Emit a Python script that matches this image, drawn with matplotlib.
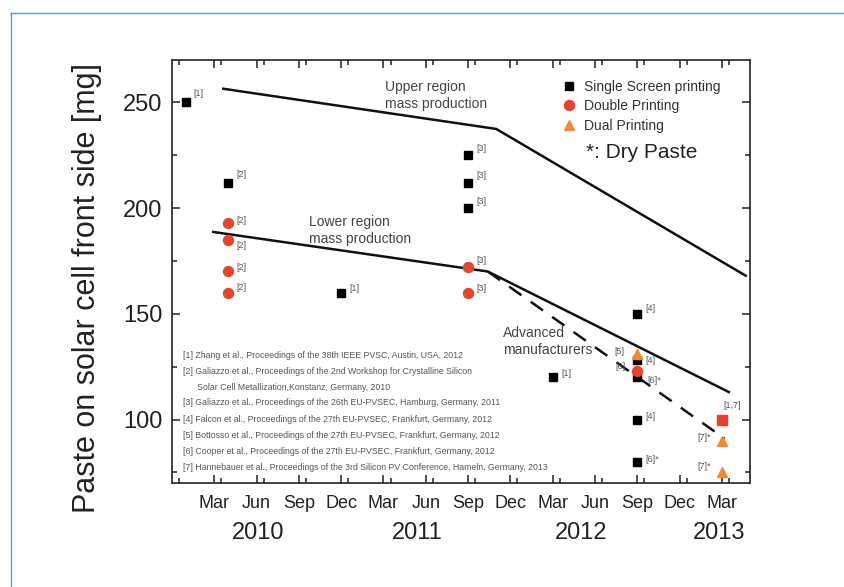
import matplotlib
matplotlib.use("Agg")
import matplotlib.pyplot as plt
import numpy as np
from matplotlib.lines import Line2D

plt.rcParams['font.family'] = ['Liberation Sans', 'DejaVu Sans']

# ---- data (x = months since Jan 2010) ----
single_x = [0, 3, 11, 20, 20, 20, 26, 32, 32, 32, 32, 32]
single_y = [250, 212, 160, 225, 212, 200, 120, 150, 128, 120, 100, 80]
single_lbl = ['[1]', '[2]', '[1]', '[3]', '[3]', '[3]', '[1]', '[4]', '[4]', '[6]*', '[4]', '[6]*']

double_x = [3, 3, 3, 3, 20, 20, 32]
double_y = [193, 185, 170, 160, 172, 160, 123]
double_lbl = ['[2]', '[2]', '[2]', '[2]', '[3]', '[3]', '[6]']

dual_x = [32, 38, 38]
dual_y = [131, 90, 75]
dual_lbl = ['[5]', '[7]*', '[7]*']

red_sq_x = [38]
red_sq_y = [100]
red_sq_lbl = ['[1,7]']

upper_x = [2.64, 22.0, 39.7]
upper_y = [256.4, 237.4, 168.0]
lower_x = [1.93, 21.4, 38.5]
lower_y = [188.7, 170.0, 113.0]
dashed_x = [21.4, 38.2]
dashed_y = [170.0, 91.0]

major_ticks = list(range(2, 39, 3))
month_labels = ['Mar', 'Jun', 'Sep', 'Dec'] * 3 + ['Mar']
year_labels = ['2010', '2011', '2012', '2013']
year_pos = [5.1, 16.4, 28.0, 37.8]

references = [
    "[1] Zhang et al., Proceedings of the 38th IEEE PVSC, Austin, USA, 2012",
    "[2] Galiazzo et al., Proceedings of the 2nd Workshop for Crystalline Silicon",
    "      Solar Cell Metallization,Konstanz, Germany, 2010",
    "[3] Galiazzo et al., Proceedings of the 26th EU-PVSEC, Hamburg, Germany, 2011",
    "[4] Falcon et al., Proceedings of the 27th EU-PVSEC, Frankfurt, Germany, 2012",
    "[5] Bottosso et al., Proceedings of the 27th EU-PVSEC, Frankfurt, Germany, 2012",
    "[6] Cooper et al., Proceedings of the 27th EU-PVSEC, Frankfurt, Germany, 2012",
    "[7] Hannebauer et al., Proceedings of the 3rd Silicon PV Conference, Hameln, Germany, 2013",
]

# label offsets in points (layout only)
single_off = [(5, 6), (6, 6), (6, 3), (6, 5), (6, 5), (6, 5), (6, 3), (6, 4), (6, 0), (7, -2), (6, 2), (6, 2)]
double_off = [(6, 2), (6, -4), (6, 3), (6, 4), (6, 5), (6, 3), (-8, 3)]
dual_off = [(-9, 2), (-8, 2), (-8, 4)]

C_BLACK = '#000000'
C_RED = '#e8432d'
C_ORANGE = '#f28b30'
C_TXT = '#444444'

fig = plt.figure(figsize=(8.44, 5.87), dpi=100)
ax = fig.add_axes([172/844, 1-483/587, (750-172)/844, (483-60)/587])

ax.plot(upper_x, upper_y, color='#111111', lw=1.8, zorder=2)
ax.plot(lower_x, lower_y, color='#111111', lw=1.8, zorder=2)
ax.plot(dashed_x, dashed_y, color='#111111', lw=1.8, ls=(0, (6, 4.5)), zorder=2)

ax.plot(single_x, single_y, 's', color=C_BLACK, ms=6.3, ls='none', zorder=3,
        label='Single Screen printing')
ax.plot(double_x, double_y, 'o', color=C_RED, ms=7.2, ls='none', zorder=4,
        label='Double Printing')
ax.plot(dual_x, dual_y, '^', color=C_ORANGE, ms=7.5, ls='none', zorder=5,
        label='Dual Printing')
ax.plot(red_sq_x, red_sq_y, 's', color=C_RED, ms=7.5, ls='none', zorder=4)

def lab(xs, ys, ls, offs):
    for x, y, l, (dx, dy) in zip(xs, ys, ls, offs):
        ha = 'left' if dx >= 0 else 'right'
        ax.annotate(l, (x, y), xytext=(dx, dy), textcoords='offset points',
                    fontsize=6.5, color='#555555', ha=ha, va='center', zorder=6)

lab(single_x, single_y, single_lbl, single_off)
lab(double_x, double_y, double_lbl, double_off)
lab(dual_x, dual_y, dual_lbl, dual_off)
lab(red_sq_x, red_sq_y, red_sq_lbl, [(1, 10)])

ax.set_xlim(-1, 40)
ax.set_ylim(70, 270)

ax.set_xticks(major_ticks)
ax.set_xticklabels(month_labels)
ax.set_xticks(np.arange(-0.5, 40, 3), minor=True)
ax.set_yticks([100, 150, 200, 250])
ax.set_yticks([75, 125, 175, 225], minor=True)

ax.tick_params(which='both', direction='in', top=True, right=True, width=1.1, color='#222222')
ax.tick_params(which='major', length=6)
ax.tick_params(which='minor', length=3.5)
ax.tick_params(axis='x', which='major', labelsize=13, pad=9, labelcolor='#222222')
ax.tick_params(axis='y', which='major', labelsize=17, pad=7, labelcolor='#222222')
for s in ax.spines.values():
    s.set_linewidth(1.2)
    s.set_color('#222222')

ax.set_ylabel('Paste on solar cell front side [mg]', fontsize=22, color='#222222')
ax.yaxis.set_label_coords((102-172)/578, 1-(288-60)/423)

for yl, yp in zip(year_labels, year_pos):
    ax.text(yp, 1-(533-60)/423, yl, transform=ax.get_xaxis_transform(), fontsize=17,
            ha='center', va='center', color='#222222')

ax.text(14.08, 257.1, 'Upper region', fontsize=10, color=C_TXT, va='center', ha='left')
ax.text(14.08, 249.2, 'mass production', fontsize=10, color=C_TXT, va='center', ha='left')
ax.text(8.7, 193.6, 'Lower region', fontsize=10, color=C_TXT, va='center', ha='left')
ax.text(8.7, 185.3, 'mass production', fontsize=10, color=C_TXT, va='center', ha='left')
ax.text(22.5, 140.9, 'Advanced', fontsize=10, color=C_TXT, va='center', ha='left')
ax.text(22.5, 133.0, 'manufacturers', fontsize=10, color=C_TXT, va='center', ha='left')

leg = ax.legend(loc='upper left', bbox_to_anchor=((562-172)/578, 1-(80-60)/423),
                frameon=False, fontsize=10, handletextpad=0.6, labelspacing=0.38,
                handlelength=1.0, borderaxespad=0, borderpad=0)
for t in leg.get_texts():
    t.set_color('#333333')

ax.text((586-172)/578, 1-(152-60)/423, '*: Dry Paste', transform=ax.transAxes,
        fontsize=15, color='#222222', va='center', ha='left')

ref_py = [355, 371, 387, 403, 419, 435, 451, 467]
for r, py in zip(references, ref_py):
    ax.text((183-172)/578, 1-(py-60)/423, r, transform=ax.transAxes,
            fontsize=6.3, color='#555555', va='center', ha='left')

# light blue frame (left and top edges)
fig.add_artist(Line2D([11/844, 11/844], [0, 1-13/587], transform=fig.transFigure,
                      color='#5b9bd5', lw=1.0))
fig.add_artist(Line2D([11/844, 1], [1-13/587, 1-13/587], transform=fig.transFigure,
                      color='#5b9bd5', lw=1.0))

fig.savefig('out.png', dpi=100)
